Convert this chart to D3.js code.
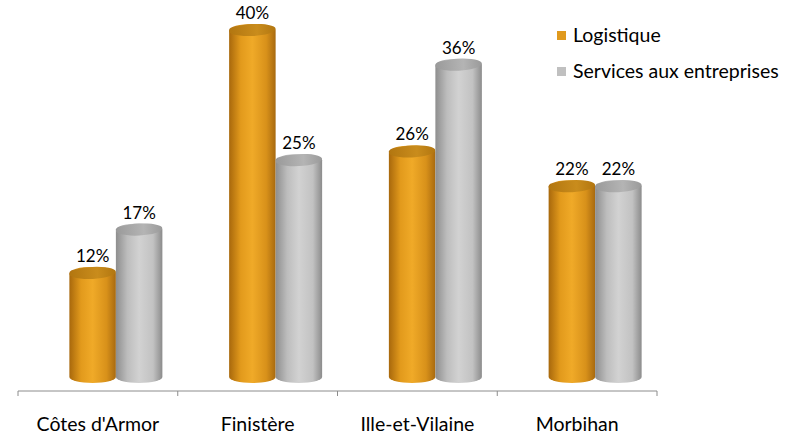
<!DOCTYPE html>
<html>
<head>
<meta charset="utf-8">
<script src="https://cdn.jsdelivr.net/npm/d3@7"></script>
<style>
  body { margin: 0; background: #fff; }
  svg { display: block; font-family: Lato, "Open Sans", sans-serif; }
</style>
</head>
<body>
<div id="chart"></div>
<script>
const categories = ["Côtes d'Armor", "Finistère", "Ille-et-Vilaine", "Morbihan"];
const seriesNames = ["Logistique", "Services aux entreprises"];
const logistique = [12, 40, 26, 22];
const services = [17, 25, 36, 22];

const width = 787;
const height = 438;

const svg = d3.select("#chart")
  .append("svg")
  .attr("width", width)
  .attr("height", height);

const defs = svg.append("defs");

// body gradients (left dark -> light -> right dark) and top shading
const palettes = [
  { body: ["#a8680c", "#e29a1c", "#f0aa28", "#d8911a", "#a86a10"], top: ["#b27610", "#c98c1c"] },
  { body: ["#8e8e8e", "#bdbdbd", "#d2d2d2", "#c2c2c2", "#8c8c8c"], top: ["#9a9a9a", "#b4b4b4"] }
];

palettes.forEach((p, i) => {
  const g = defs.append("linearGradient")
    .attr("id", "body" + i)
    .attr("x1", "0%").attr("x2", "100%").attr("y1", "0%").attr("y2", "0%");
  [0, 0.25, 0.5, 0.8, 1].forEach((o, j) => {
    g.append("stop").attr("offset", o).attr("stop-color", p.body[j]);
  });
  const t = defs.append("linearGradient")
    .attr("id", "top" + i)
    .attr("x1", "0%").attr("x2", "100%").attr("y1", "0%").attr("y2", "0%");
  t.append("stop").attr("offset", 0).attr("stop-color", p.top[0]);
  t.append("stop").attr("offset", 0.6).attr("stop-color", p.top[1]);
  t.append("stop").attr("offset", 1).attr("stop-color", p.top[0]);
});

// Scales
const x0 = d3.scaleBand()
  .domain(categories)
  .range([18, 657]);

const groupWidth = 93;
const shift = 18; // 3D perspective pushes bars right of the band centre
const x1 = d3.scaleBand()
  .domain(seriesNames)
  .range([0, groupWidth]);

const y = d3.scaleLinear()
  .domain([0, 40])
  .range([377, 30]);

const data = categories.map((c, i) => ({
  category: c,
  values: [
    { series: seriesNames[0], value: logistique[i], idx: 0 },
    { series: seriesNames[1], value: services[i], idx: 1 }
  ]
}));

// Axis line + boundary ticks
const axisY = 391;
const boundaries = categories.map(c => x0(c)).concat([x0.range()[1]]);
svg.append("line")
  .attr("x1", x0.range()[0]).attr("x2", x0.range()[1])
  .attr("y1", axisY).attr("y2", axisY)
  .attr("stroke", "#8c8c8c").attr("stroke-width", 1);
svg.selectAll(".btick")
  .data(boundaries)
  .enter()
  .append("line")
  .attr("class", "btick")
  .attr("x1", d => d).attr("x2", d => d)
  .attr("y1", axisY).attr("y2", axisY + 5)
  .attr("stroke", "#8c8c8c");

// Category labels
svg.append("g")
  .attr("transform", `translate(0,${axisY})`)
  .call(d3.axisBottom(x0).tickSize(0).tickPadding(0))
  .call(g => g.select(".domain").remove())
  .call(g => g.selectAll("text")
    .attr("dy", null)
    .attr("y", 40)
    .attr("font-size", 19.5)
    .attr("font-family", "Lato, 'Open Sans', sans-serif")
    .attr("fill", "#000"));

const rx = x1.bandwidth() / 2;
const ry = 6;
const tilt = -3;

function cylinderPath(cx, yTop, yBot) {
  const l = cx - rx;
  const r = cx + rx;
  return `M${l},${yTop} L${l},${yBot} A${rx},${ry} 0 0 0 ${r},${yBot} L${r},${yTop} A${rx},${ry} 0 0 0 ${l},${yTop} Z`;
}

const groups = svg.selectAll(".grp")
  .data(data)
  .enter()
  .append("g")
  .attr("class", "grp")
  .attr("transform", d => `translate(${x0(d.category) + (x0.bandwidth() - groupWidth) / 2 + shift},0)`);

const bars = groups.selectAll(".bar")
  .data(d => d.values)
  .enter()
  .append("g")
  .attr("class", "bar");

bars.each(function(d) {
  const g = d3.select(this);
  const cx = x1(d.series) + rx;
  const yTop = y(d.value);
  const yBot = y(0);
  g.append("path")
    .attr("d", cylinderPath(cx, yTop, yBot))
    .attr("fill", `url(#body${d.idx})`);
  g.append("ellipse")
    .attr("cx", cx).attr("cy", yTop)
    .attr("rx", rx).attr("ry", ry)
    .attr("transform", `rotate(${tilt},${cx},${yTop})`)
    .attr("fill", `url(#top${d.idx})`);
  g.append("text")
    .attr("x", cx)
    .attr("y", yTop - 11)
    .attr("text-anchor", "middle")
    .attr("font-size", 17)
    .attr("fill", "#000")
    .text(d.value + "%");
});

// Legend
const legendColors = ["#e09a1e", "#c0c0c0"];
const legend = svg.selectAll(".legend")
  .data(seriesNames)
  .enter()
  .append("g")
  .attr("class", "legend")
  .attr("transform", (d, i) => `translate(557,${31 + i * 36})`);
legend.append("rect")
  .attr("width", 9).attr("height", 9)
  .attr("fill", (d, i) => legendColors[i]);
legend.append("text")
  .attr("x", 16)
  .attr("y", 11)
  .attr("font-size", 19.5)
  .attr("fill", "#000")
  .text(d => d);
</script>
</body>
</html>
